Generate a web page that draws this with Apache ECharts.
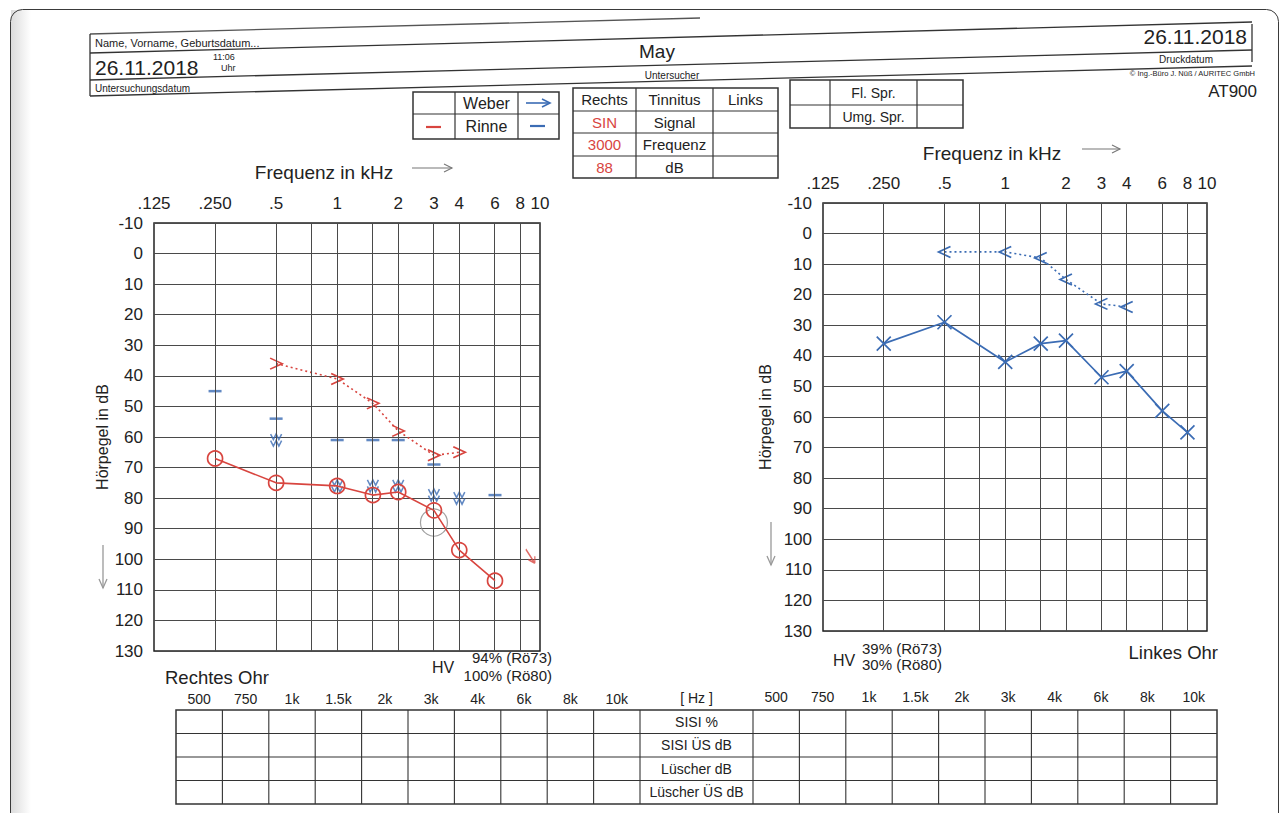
<!DOCTYPE html>
<html><head><meta charset="utf-8">
<script src="https://cdn.jsdelivr.net/npm/echarts@6.0.0/dist/echarts.min.js"></script>
<style>html,body{margin:0;padding:0;background:#fff;}#c{width:1287px;height:813px;}</style>
</head><body><div id="c"></div><script>
const FONT = '"Liberation Sans", Arial, Helvetica, sans-serif';
const RED = '#d8453f', BLUE = '#3b6cb4', INK = '#222';

// ---- axis ticks ----
const freqTicks = [0.125, 0.25, 0.5, 1, 2, 3, 4, 6, 8, 10];
const freqTickLabels = ['.125', '.250', '.5', '1', '2', '3', '4', '6', '8', '10'];
const gridFreqs = [0.25, 0.5, 0.75, 1, 1.5, 2, 3, 4, 6, 8];

// ---- Rechtes Ohr (right ear) ----
const rAcFreq = [0.25, 0.5, 1, 1.5, 2, 3, 4, 6];
const rAcDb = [67, 75, 76, 79, 78, 84, 97, 107];
const rUclFreq = [0.5, 1, 1.5, 2, 3, 4];
const rUclDb = [36, 41, 49, 58, 66, 65];
const rDashFreq = [0.25, 0.5, 1, 1.5, 2, 3, 6];
const rDashDb = [45, 54, 61, 61, 61, 69, 79];
const rMaskFreq = [0.5, 1, 1.5, 2, 3, 4];
const rMaskDb = [61, 76, 76, 76, 79, 80];
const rTinFreq = [3];
const rTinDb = [88];
const rNoRespFreq = [8];
const rNoRespDb = [99];

// ---- Linkes Ohr (left ear) ----
const lAcFreq = [0.25, 0.5, 1, 1.5, 2, 3, 4, 6, 8];
const lAcDb = [36, 29, 42, 36, 35, 47, 45, 58, 65];
const lUclFreq = [0.5, 1, 1.5, 2, 3, 4];
const lUclDb = [6, 6, 8, 15, 23, 24];

// ---- bottom table ----
const sisiFreqLabels = ['500', '750', '1k', '1.5k', '2k', '3k', '4k', '6k', '8k', '10k'];
const sisiRows = ['SISI %', 'SISI ÜS dB', 'Lüscher dB', 'Lüscher ÜS dB'];

const L2 = f => Math.log2(f);
const pts = (f, d) => f.map((v, i) => [L2(v), d[i]]);

const SYM_GT = 'path://M0,0L12,5L0,10';
const SYM_LT = 'path://M12,0L0,5L12,10';
const SYM_X = 'path://M0,0L12,12M12,0L0,12';
const SYM_VV = 'path://M0,0L3,5L6,0L9,5L12,0M0,6L3,11L6,6L9,11L12,6';
const SYM_ARR = 'path://M0,0L7,12M7,12L7,6M7,12L2,9';

function xAx(gi) {
  return {
    type: 'value', gridIndex: gi, min: L2(0.125), max: L2(10), position: 'top',
    axisLine: { show: false }, axisTick: { show: false }, splitLine: { show: false },
    axisLabel: {
      customValues: freqTicks.map(L2),
      formatter: v => { const i = freqTicks.findIndex(f => Math.abs(L2(f) - v) < 1e-6); return i >= 0 ? freqTickLabels[i] : ''; },
      fontSize: 17, color: INK, margin: 11, fontFamily: FONT
    }
  };
}
function yAx(gi, gap) {
  return {
    type: 'value', gridIndex: gi, inverse: true, min: -10, max: 130, interval: 10,
    axisLine: { show: false }, axisTick: { show: false },
    splitLine: { show: true, lineStyle: { color: '#4a4a4a', width: 1 } },
    axisLabel: { fontSize: 17, color: INK, margin: 11, fontFamily: FONT },
    name: 'Hörpegel in dB', nameLocation: 'middle', nameGap: gap, nameRotate: 90,
    nameTextStyle: { fontSize: 16, color: INK, fontFamily: FONT }
  };
}
function vLines(gi) {
  return {
    type: 'line', xAxisIndex: gi, yAxisIndex: gi, data: [], z: 1, silent: true,
    markLine: {
      silent: true, symbol: ['none', 'none'], label: { show: false },
      lineStyle: { color: '#4a4a4a', width: 1, type: 'solid' },
      emphasis: { disabled: true },
      data: gridFreqs.map(f => ({ xAxis: L2(f) }))
    }
  };
}
const strokeSym = (c, w) => ({ color: 'none', borderColor: c, borderWidth: w });

// ---- graphics (header, tables, texts) ----
const G = [];
function txt(x, y, s, size, opt = {}) {
  G.push({ type: 'text', x, y, z: 10, silent: true,
    style: { text: s, fontSize: size, fontFamily: FONT, fill: opt.color || INK, align: opt.align || 'left', verticalAlign: 'middle' } });
}
function ln(x1, y1, x2, y2, w = 1.2, color = '#333') {
  G.push({ type: 'line', z: 10, silent: true, shape: { x1, y1, x2, y2 }, style: { stroke: color, lineWidth: w } });
}
function arrowR(x1, x2, y, color, w = 1.2) {
  ln(x1, y, x2, y, w, color);
  G.push({ type: 'polyline', z: 10, silent: true, shape: { points: [[x2 - 8, y - 4], [x2, y], [x2 - 8, y + 4]] }, style: { stroke: color, lineWidth: w, fill: null } });
}
function arrowD(x, y1, y2, color, w = 1.2) {
  ln(x, y1, x, y2, w, color);
  G.push({ type: 'polyline', z: 10, silent: true, shape: { points: [[x - 4, y2 - 9], [x, y2], [x + 4, y2 - 9]] }, style: { stroke: color, lineWidth: w, fill: null } });
}
function table(cols, rows, cells, size, colors) {
  const x0 = cols[0], x1 = cols[cols.length - 1], y0 = rows[0], y1 = rows[rows.length - 1];
  G.push({ type: 'rect', z: 10, silent: true, shape: { x: x0, y: y0, width: x1 - x0, height: y1 - y0 }, style: { stroke: '#333', lineWidth: 1.5, fill: null } });
  for (let i = 1; i < cols.length - 1; i++) ln(cols[i], y0, cols[i], y1, 1.2);
  for (let j = 1; j < rows.length - 1; j++) ln(x0, rows[j], x1, rows[j], 1.2);
  cells.forEach((row, j) => row.forEach((s, i) => {
    if (s) txt((cols[i] + cols[i + 1]) / 2, (rows[j] + rows[j + 1]) / 2, s, size, { align: 'center', color: colors ? colors(j, i) : INK });
  }));
}

// frame & paper edge
G.push({ type: 'rect', z: 0, silent: true, shape: { x: 11, y: 10, width: 20, height: 820 },
  style: { fill: new echarts.graphic.LinearGradient(0, 0, 1, 0, [{ offset: 0, color: '#dcdcdc' }, { offset: 1, color: '#ffffff' }]) } });
G.push({ type: 'rect', z: 11, silent: true, shape: { x: 10.5, y: 9.5, width: 1268, height: 840, r: 12 }, style: { stroke: '#3a3a3a', lineWidth: 1, fill: null } });

// header lines (the sheet is slightly tilted)
ln(90, 34, 700, 18, 1.3, '#555');
ln(90, 53, 1252, 22, 1.3);
ln(90, 80, 1252, 50, 1.3);
ln(90, 96, 1252, 66, 1.3);
ln(90, 34, 90, 96, 1.3);
ln(1252, 24, 1252, 62, 1.3);

txt(95, 43, 'Name, Vorname, Geburtsdatum...', 11);
txt(95, 67, '26.11.2018', 21);
txt(213, 57, '11:06', 9);
txt(221, 68, 'Uhr', 9);
txt(95, 88, 'Untersuchungsdatum', 10);
txt(657, 51, 'May', 19, { align: 'center' });
txt(672, 75, 'Untersucher', 10, { align: 'center' });
txt(1247, 36, '26.11.2018', 21, { align: 'right' });
txt(1213, 59, 'Druckdatum', 10, { align: 'right' });
txt(1255, 73, '© Ing.-Büro J. Nüß / AURITEC GmbH', 7.5, { align: 'right' });
txt(1257, 91, 'AT900', 17, { align: 'right' });

// legend table (Weber / Rinne)
table([413, 455, 518, 559], [92, 114, 139], [['', 'Weber', ''], ['', 'Rinne', '']], 16);
arrowR(526, 550, 103, BLUE, 1.6);
ln(426, 127, 441, 127, 2.2, RED);
ln(530, 126, 545, 126, 2.2, BLUE);

// tinnitus table
table([573, 636, 713, 778], [88, 111, 133, 156, 178],
  [['Rechts', 'Tinnitus', 'Links'], ['SIN', 'Signal', ''], ['3000', 'Frequenz', ''], ['88', 'dB', '']], 15,
  (j, i) => (i === 0 && j > 0 ? RED : INK));

// speech table
table([790, 830, 917, 963], [80, 105, 128], [['', 'Fl. Spr.', ''], ['', 'Umg. Spr.', '']], 14);

// axis titles
txt(324, 172, 'Frequenz in kHz', 19, { align: 'center' });
arrowR(412, 452, 168, '#777', 1.1);
txt(992, 153, 'Frequenz in kHz', 19, { align: 'center' });
arrowR(1082, 1120, 149, '#777', 1.1);
arrowD(103, 545, 588, '#999', 1.3);
arrowD(771, 522, 565, '#999', 1.3);

// captions under charts
txt(165, 677, 'Rechtes Ohr', 18.5);
txt(432, 667, 'HV', 16);
txt(552, 657, '94% (Rö73)', 15, { align: 'right' });
txt(552, 675, '100% (Rö80)', 15, { align: 'right' });
txt(833, 660, 'HV', 16);
txt(862, 648, '39% (Rö73)', 15);
txt(862, 664, '30% (Rö80)', 15);
txt(1218, 652, 'Linkes Ohr', 18.5, { align: 'right' });

// bottom SISI / Lüscher table
(function () {
  const cw = 46.4, x0 = 176, labW = 113;
  const leftCols = [], rightCols = [];
  for (let i = 0; i <= 10; i++) leftCols.push(x0 + i * cw);
  const lx1 = leftCols[10], rx0 = lx1 + labW;
  for (let i = 0; i <= 10; i++) rightCols.push(rx0 + i * cw);
  const rows = [710, 733.5, 757, 780.5, 804];
  const cols = leftCols.concat(rightCols);
  const xEnd = rightCols[10];
  G.push({ type: 'rect', z: 10, silent: true, shape: { x: x0, y: rows[0], width: xEnd - x0, height: rows[4] - rows[0] }, style: { stroke: '#333', lineWidth: 1.5, fill: null } });
  cols.forEach(x => { if (x > x0 + 1 && x < xEnd - 1) ln(x, rows[0], x, rows[4], 1.1); });
  for (let j = 1; j < 4; j++) ln(x0, rows[j], xEnd, rows[j], 1.1);
  sisiRows.forEach((s, j) => txt((lx1 + rx0) / 2, (rows[j] + rows[j + 1]) / 2, s, 14, { align: 'center' }));
  sisiFreqLabels.forEach((s, i) => {
    txt(leftCols[i] + cw / 2, 699, s, 14, { align: 'center' });
    txt(rightCols[i] + cw / 2, 697, s, 14, { align: 'center' });
  });
  txt((lx1 + rx0) / 2, 698, '[ Hz ]', 14, { align: 'center' });
})();

const option = {
  animation: false,
  backgroundColor: '#fff',
  grid: [
    { left: 154, top: 223, width: 386, height: 428, show: true, borderColor: '#222', borderWidth: 1.5, backgroundColor: 'transparent' },
    { left: 823, top: 203, width: 384, height: 428, show: true, borderColor: '#222', borderWidth: 1.5, backgroundColor: 'transparent' }
  ],
  xAxis: [xAx(0), xAx(1)],
  yAxis: [yAx(0, 44), yAx(1, 50)],
  graphic: G,
  series: [
    vLines(0), vLines(1),
    { name: 'R UCL', type: 'line', xAxisIndex: 0, yAxisIndex: 0, data: pts(rUclFreq, rUclDb), z: 4,
      symbol: SYM_GT, symbolSize: [12, 11], itemStyle: strokeSym(RED, 1.7), lineStyle: { color: RED, width: 1.6, type: [2, 3] } },
    { name: 'R BC', type: 'scatter', xAxisIndex: 0, yAxisIndex: 0, data: pts(rDashFreq, rDashDb), z: 4,
      symbol: 'rect', symbolSize: [13, 2.5], itemStyle: { color: BLUE } },
    { name: 'R BC masked', type: 'scatter', xAxisIndex: 0, yAxisIndex: 0, data: pts(rMaskFreq, rMaskDb), z: 4,
      symbol: SYM_VV, symbolSize: [11, 12], itemStyle: strokeSym(BLUE, 1.6) },
    { name: 'Tinnitus', type: 'scatter', xAxisIndex: 0, yAxisIndex: 0, data: pts(rTinFreq, rTinDb), z: 3,
      symbol: 'circle', symbolSize: 27, itemStyle: { color: 'none', borderColor: '#8a8a8a', borderWidth: 1.2 } },
    { name: 'R AC', type: 'line', xAxisIndex: 0, yAxisIndex: 0, data: pts(rAcFreq, rAcDb), z: 5,
      symbol: 'circle', symbolSize: 15, itemStyle: { color: 'none', borderColor: RED, borderWidth: 1.7 }, lineStyle: { color: RED, width: 1.6 } },
    { name: 'R no response', type: 'scatter', xAxisIndex: 0, yAxisIndex: 0, data: pts(rNoRespFreq, rNoRespDb), z: 5,
      symbol: SYM_ARR, symbolSize: [9, 14], symbolOffset: [10, 0], itemStyle: strokeSym(RED, 1.5) },
    { name: 'L UCL', type: 'line', xAxisIndex: 1, yAxisIndex: 1, data: pts(lUclFreq, lUclDb), z: 4,
      symbol: SYM_LT, symbolSize: [12, 11], itemStyle: strokeSym(BLUE, 1.7), lineStyle: { color: BLUE, width: 1.6, type: [2, 3] } },
    { name: 'L AC', type: 'line', xAxisIndex: 1, yAxisIndex: 1, data: pts(lAcFreq, lAcDb), z: 5,
      symbol: SYM_X, symbolSize: 14, itemStyle: strokeSym(BLUE, 1.7), lineStyle: { color: BLUE, width: 1.7 } }
  ]
};
const chart = echarts.init(document.getElementById('c'), null, { renderer: 'svg', width: 1287, height: 813 });
chart.setOption(option);
</script></body></html>
